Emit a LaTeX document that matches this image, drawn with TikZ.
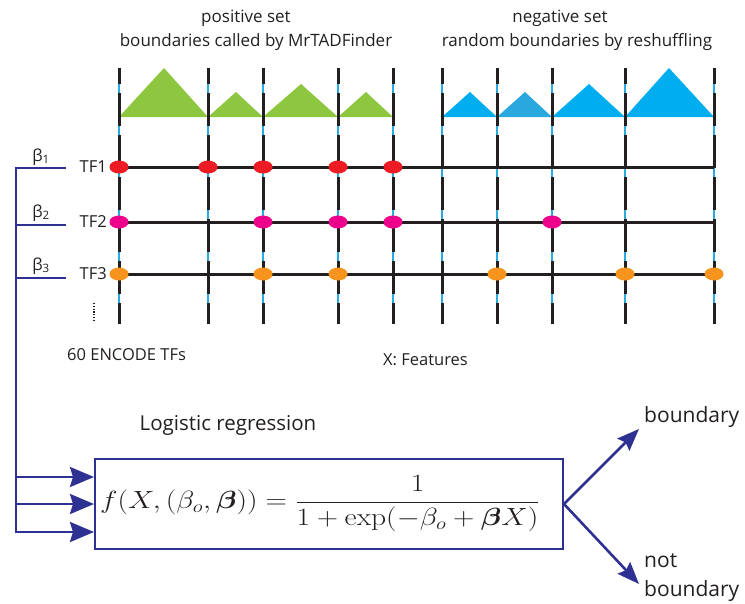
\documentclass[tikz,border=0pt]{standalone}
\usepackage{amsmath,amssymb}
\usepackage[no-math]{fontspec}
\setmainfont{Open Sans}
\usetikzlibrary{positioning,arrows.meta,calc,shapes.geometric}
\definecolor{txt}{HTML}{231F20}
\definecolor{tadgreen}{HTML}{8DC63F}
\definecolor{tadblue}{HTML}{00AEEF}
\definecolor{tadblueb}{HTML}{29A8E0}
\definecolor{tadcyan}{HTML}{27AAE1}
\definecolor{tfred}{HTML}{ED1C24}
\definecolor{tfmag}{HTML}{EC008C}
\definecolor{tforange}{HTML}{F7941D}
\definecolor{navy}{HTML}{2E3192}
\tikzset{
  bnd/.style={line width=3pt,txt,dash pattern=on 33pt off 9pt,dash phase=17pt},
  bndglow/.style={line width=1.2pt,tadcyan},
  feat/.style={line width=3pt,txt},
  hit/.style={ellipse,minimum width=19pt,minimum height=13pt,inner sep=0pt},
  wire/.style={line width=2.6pt,navy},
  inarr/.style={wire,-{Stealth[length=24pt,width=20pt,inset=3pt]}},
  lbl/.style={font=\fontsize{16.5}{19}\selectfont,text=txt,inner sep=0pt},
  bigl/.style={font=\fontsize{21}{29}\selectfont,text=txt,inner sep=0pt},
}

\begin{document}
\begin{tikzpicture}[x=1pt,y=-1pt]
  \useasboundingbox (0,0) rectangle (745,603);
  % titles
  \node[lbl,font=\fontsize{17}{20}\selectfont] (pos1) at (246,18) {positive set};
  \node[lbl,font=\fontsize{17}{20}\selectfont] (pos2) at (256,42) {boundaries called by MrTADFinder};
  \node[lbl,font=\fontsize{17}{20}\selectfont] (neg1) at (560,18) {negative set};
  \node[lbl,font=\fontsize{17}{20}\selectfont] (neg2) at (577,42) {random boundaries by reshuffling};
  % domains between boundaries
  \foreach \a/\p/\h/\b in {119/164/68/208,208/236/92/263,263/301/84/338,338/366/92/393}
    \fill[tadgreen] (\a,117) -- (\p,\h) -- (\b,117) -- cycle;
  \foreach \a/\p/\h/\b/\c in {442/470/92/497/tadblue,497/525/92/552/tadblueb,
                               552/589/84/625/tadblue,625/669/68/714/tadblue}
    \fill[\c] (\a,117) -- (\p,\h) -- (\b,117) -- cycle;
  % boundaries
  \foreach \x [count=\i] in {119,208,263,338,393,442,497,552,625,714}{
    \coordinate (vt\i) at (\x,68);
    \coordinate (vb\i) at (\x,324);
    \draw[bndglow] (vt\i) -- (vb\i);
    \draw[bnd] (vt\i) -- (vb\i);
  }
  % feature rows
  \foreach \y [count=\r] in {167,222,274}{
    \coordinate (hs\r) at (119,\y);
    \coordinate (he\r) at (714,\y);
    \draw[feat] (hs\r) -- (he\r);
    \node[lbl,anchor=east] (tf\r) at (107,\y) {TF\r};
  }
  \foreach \x in {119,208,263,338,393}
    \node[hit,fill=tfred] (ra\x) at (\x,167) {};
  \foreach \x in {119,263,338,393,552}
    \node[hit,fill=tfmag] (rb\x) at (\x,222) {};
  \foreach \x in {119,263,338,497,625,714}
    \node[hit,fill=tforange] (rc\x) at (\x,274) {};
  \coordinate (more1) at (94,303);
  \coordinate (more2) at (94,320);
  \draw[txt,line width=1.3pt,dash pattern=on 1.2pt off 1.6pt] (more1) -- (more2);
  \node[lbl,anchor=west] (ntf) at (67,355) {60 ENCODE TFs};
  \node[lbl,anchor=west] (feats) at (383,360) {X: Features};
  % classifier
  \node[lbl,font=\fontsize{20.5}{24}\selectfont] (lrt) at (228,425) {Logistic regression};
  \node[draw=navy,line width=2pt,minimum width=468pt,minimum height=90pt,inner sep=0pt,
        text=txt,font=\fontsize{25}{30}\selectfont] (logit) at (329,504)
    {\scalebox{1.19}[1]{$\displaystyle f(X,(\beta_o,\boldsymbol{\beta}))=\frac{1}{1+\exp(-\beta_o+\boldsymbol{\beta}X)}$}\hspace*{18pt}};
  % weights
  \coordinate (bt) at (16,168);
  \coordinate (bb) at (16,532);
  \foreach \y/\k in {168/1,225/2,278/3}{
    \coordinate (bk\k) at (16,\y);
    \coordinate (bw\k) at (66,\y);
    \draw[wire] (bk\k) -- (bw\k);
  }
  \node[lbl] (beta1) at (41,157) {β\textsubscript{1}};
  \node[lbl] (beta2) at (41,213) {β\textsubscript{2}};
  \node[lbl] (beta3) at (41,266) {β\textsubscript{3}};
  \draw[inarr] (bw1) -- (bt) -- (bb) -- (bb -| logit.west);
  \coordinate (ba) at (16,477);
  \coordinate (bm) at (16,504);
  \draw[inarr] (ba) -- (ba -| logit.west);
  \draw[inarr] (bm) -- (bm -| logit.west);
  % outputs
  \coordinate (yes) at (639,429);
  \coordinate (no) at (639,584);
  \draw[wire,-{Stealth[length=22pt,width=17pt,inset=3pt]}] (logit.east) -- (yes);
  \draw[wire,-{Stealth[length=22pt,width=17pt,inset=3pt]}] (logit.east) -- (no);
  \node[bigl,anchor=west] (yesl) at (644,417) {boundary};
  \node[bigl,anchor=west,align=left] (nol) at (644,578) {not\\boundary};
\end{tikzpicture}
\end{document}
